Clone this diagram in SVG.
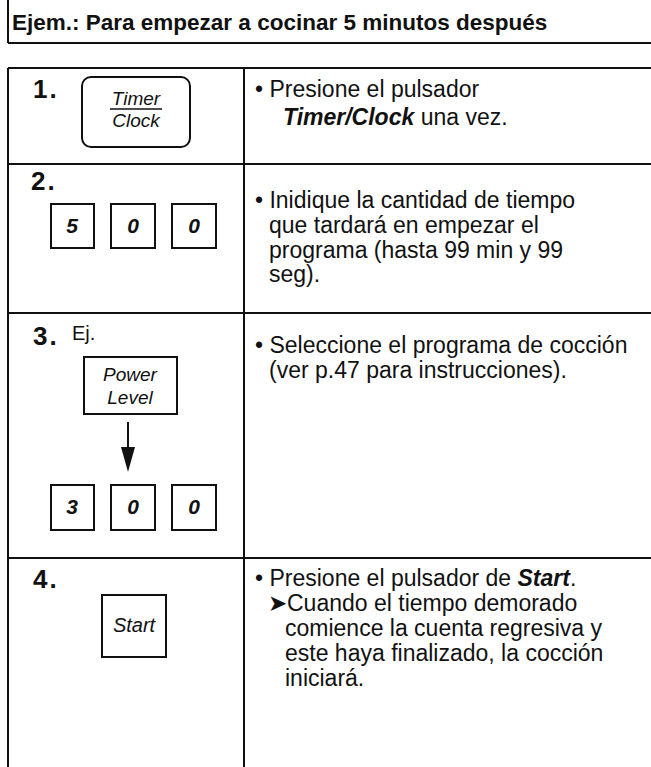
<svg xmlns="http://www.w3.org/2000/svg" width="651" height="767" viewBox="0 0 651 767">
<style>
.ln{stroke:#111;stroke-width:2;fill:none}
.box{stroke:#111;stroke-width:2;fill:#fff}
.t{font-family:"Liberation Sans",Arial,sans-serif;font-size:23px;fill:#111}
.hd{font-family:"Liberation Sans",Arial,sans-serif;font-size:22.5px;font-weight:bold;fill:#111}
.num{font-family:"Liberation Sans",Arial,sans-serif;font-size:26px;font-weight:bold;fill:#111;letter-spacing:2px}
.lbl{font-family:"Liberation Sans",Arial,sans-serif;font-size:19px;font-style:italic;fill:#111;text-anchor:middle}
.dig{font-family:"Liberation Sans",Arial,sans-serif;font-size:21px;font-style:italic;font-weight:bold;fill:#111;text-anchor:middle}
.bi{font-weight:bold;font-style:italic}
</style>
<rect width="651" height="767" fill="#fff"/>
<g id="header">
<line class="ln" x1="8" y1="0" x2="8" y2="43"/>
<line class="ln" x1="8" y1="43" x2="651" y2="43"/>
<text class="hd" x="12" y="30">Ejem.: Para empezar a cocinar 5 minutos después</text>
</g>
<g id="table">
<line class="ln" x1="8" y1="68" x2="651" y2="68"/>
<line class="ln" x1="8" y1="68" x2="8" y2="767"/>
<line class="ln" x1="244" y1="68" x2="244" y2="767"/>
<line class="ln" x1="8" y1="164" x2="651" y2="164"/>
<line class="ln" x1="8" y1="313" x2="651" y2="313"/>
<line class="ln" x1="8" y1="558" x2="651" y2="558"/>
</g>
<g id="step1">
<text class="num" x="33" y="98">1.</text>
<g id="btn-timer-clock">
<rect class="box" x="82" y="77" width="108" height="70" rx="9"/>
<text class="lbl" x="136" y="105">Timer</text>
<line x1="110" y1="109" x2="162" y2="109" stroke="#111" stroke-width="1.5"/>
<text class="lbl" x="136" y="127">Clock</text>
</g>
<text class="t" x="255" y="97">• Presione el pulsador</text>
<text class="t" x="283" y="125"><tspan class="bi">Timer/Clock</tspan> una vez.</text>
</g>
<g id="step2">
<text class="num" x="31" y="190">2.</text>
<g id="key-5a"><rect class="box" x="51" y="204" width="43" height="44"/><text class="dig" x="72" y="233">5</text></g>
<g id="key-0a"><rect class="box" x="111" y="204" width="44" height="44"/><text class="dig" x="133" y="233">0</text></g>
<g id="key-0b"><rect class="box" x="172" y="204" width="44" height="44"/><text class="dig" x="194" y="233">0</text></g>
<text class="t" x="255" y="208">• Inidique la cantidad de tiempo</text>
<text class="t" x="269" y="233">que tardará en empezar el</text>
<text class="t" x="269" y="258">programa (hasta 99 min y 99</text>
<text class="t" x="269" y="282">seg).</text>
</g>
<g id="step3">
<text class="num" x="33" y="345">3.</text>
<text class="t" x="72" y="340" style="font-size:20px">Ej.</text>
<g id="btn-power-level">
<rect class="box" x="84" y="357" width="93" height="57"/>
<text class="lbl" x="130" y="381">Power</text>
<text class="lbl" x="130" y="404">Level</text>
</g>
<g id="key-3"><rect class="box" x="51" y="485" width="43" height="45"/><text class="dig" x="72" y="514">3</text></g>
<g id="key-0c"><rect class="box" x="111" y="485" width="44" height="45"/><text class="dig" x="133" y="514">0</text></g>
<g id="key-0d"><rect class="box" x="172" y="485" width="44" height="45"/><text class="dig" x="194" y="514">0</text></g>
<text class="t" x="255" y="353">• Seleccione el programa de cocción</text>
<text class="t" x="269" y="378">(ver p.47 para instrucciones).</text>
</g>
<g id="connectors">
<line x1="128" y1="422" x2="128" y2="452" stroke="#111" stroke-width="2"/>
<polygon points="121,447 135,447 128,472" fill="#111"/>
</g>
<g id="step4">
<text class="num" x="33" y="588">4.</text>
<g id="btn-start">
<rect class="box" x="102" y="595" width="64" height="62"/>
<text class="lbl" x="134" y="632" style="font-size:20px">Start</text>
</g>
<text class="t" x="255" y="586">• Presione el pulsador de <tspan class="bi">Start</tspan>.</text>
<text class="t" x="268" y="611">➤Cuando el tiempo demorado</text>
<text class="t" x="285" y="636">comience la cuenta regresiva y</text>
<text class="t" x="285" y="661">este haya finalizado, la cocción</text>
<text class="t" x="285" y="686">iniciará.</text>
</g>
</svg>
